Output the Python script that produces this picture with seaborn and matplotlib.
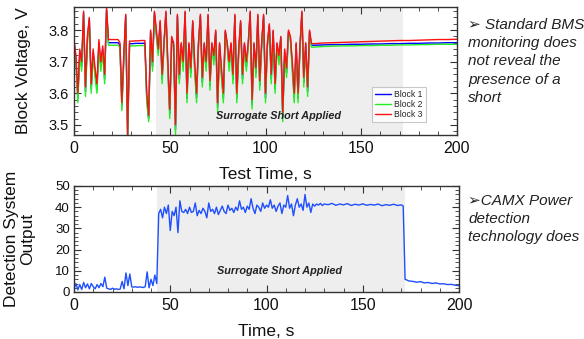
import numpy as np
import pandas as pd
import matplotlib
matplotlib.use("Agg")
import matplotlib.pyplot as plt
from matplotlib.ticker import MultipleLocator
import seaborn as sns

# ---------------- data ----------------
# Block voltages: 1 s samples 0..124 s, then sparse samples in the quiet tail
volt_time = list(range(0, 125)) + [125, 130, 135, 140, 145, 150, 155, 160, 165, 170, 175, 180, 185, 190, 195, 200]

block3 = [3.77, 3.72, 3.60, 3.74, 3.70, 3.86, 3.62, 3.78, 3.84, 3.63,
          3.74, 3.68, 3.63, 3.77, 3.70, 3.75, 3.66, 3.87, 3.770, 3.770,
          3.770, 3.770, 3.770, 3.770, 3.760, 3.57, 3.72, 3.85, 3.47, 3.765,
          3.765, 3.765, 3.766, 3.766, 3.766, 3.767, 3.767, 3.767, 3.60, 3.53,
          3.80, 3.70, 3.86, 3.80, 3.74, 3.83, 3.66, 3.76, 3.86, 3.70,
          3.55, 3.78, 3.76, 3.50, 3.85, 3.66, 3.76, 3.70, 3.86, 3.60,
          3.76, 3.68, 3.83, 3.70, 3.60, 3.76, 3.85, 3.65, 3.76, 3.70,
          3.85, 3.64, 3.76, 3.72, 3.80, 3.57, 3.76, 3.68, 3.60, 3.80,
          3.76, 3.70, 3.76, 3.66, 3.85, 3.60, 3.74, 3.83, 3.66, 3.76,
          3.70, 3.76, 3.86, 3.58, 3.76, 3.68, 3.85, 3.64, 3.76, 3.85,
          3.60, 3.76, 3.82, 3.66, 3.80, 3.63, 3.76, 3.72, 3.78, 3.54,
          3.74, 3.68, 3.80, 3.78, 3.70, 3.60, 3.76, 3.60, 3.75, 3.86,
          3.65, 3.76, 3.62, 3.80, 3.758,
          3.757, 3.759, 3.760, 3.761, 3.762, 3.763, 3.764, 3.765, 3.766, 3.767,
          3.767, 3.768, 3.769, 3.770, 3.770, 3.771]

block2 = [3.755, 3.70, 3.57, 3.72, 3.67, 3.85, 3.59, 3.76, 3.83, 3.60,
          3.72, 3.65, 3.60, 3.75, 3.67, 3.73, 3.63, 3.86, 3.752, 3.752,
          3.752, 3.752, 3.752, 3.752, 3.745, 3.545, 3.70, 3.84, 3.45, 3.750,
          3.750, 3.750, 3.750, 3.751, 3.751, 3.751, 3.751, 3.751, 3.57, 3.51,
          3.79, 3.67, 3.85, 3.78, 3.72, 3.82, 3.63, 3.748, 3.85, 3.67,
          3.52, 3.76, 3.748, 3.47, 3.84, 3.63, 3.748, 3.67, 3.85, 3.57,
          3.748, 3.65, 3.82, 3.67, 3.57, 3.748, 3.84, 3.62, 3.748, 3.67,
          3.84, 3.61, 3.748, 3.69, 3.79, 3.54, 3.748, 3.65, 3.57, 3.79,
          3.748, 3.67, 3.748, 3.63, 3.84, 3.57, 3.72, 3.82, 3.63, 3.748,
          3.67, 3.748, 3.85, 3.55, 3.748, 3.65, 3.84, 3.61, 3.748, 3.84,
          3.57, 3.748, 3.81, 3.63, 3.79, 3.60, 3.748, 3.69, 3.77, 3.51,
          3.72, 3.65, 3.79, 3.77, 3.67, 3.57, 3.748, 3.57, 3.74, 3.85,
          3.62, 3.748, 3.59, 3.79, 3.746,
          3.746, 3.748, 3.749, 3.750, 3.750, 3.751, 3.751, 3.752, 3.752, 3.753,
          3.753, 3.754, 3.754, 3.755, 3.755, 3.755]

block1 = [3.762, 3.71, 3.585, 3.73, 3.685, 3.855, 3.605, 3.77, 3.835, 3.615,
          3.73, 3.665, 3.615, 3.76, 3.685, 3.74, 3.645, 3.865, 3.760, 3.760,
          3.760, 3.760, 3.760, 3.760, 3.752, 3.56, 3.71, 3.845, 3.46, 3.757,
          3.757, 3.757, 3.758, 3.758, 3.758, 3.758, 3.758, 3.759, 3.585, 3.52,
          3.795, 3.685, 3.855, 3.79, 3.73, 3.825, 3.645, 3.755, 3.855, 3.685,
          3.535, 3.77, 3.755, 3.485, 3.845, 3.645, 3.755, 3.685, 3.855, 3.585,
          3.755, 3.665, 3.825, 3.685, 3.585, 3.755, 3.845, 3.635, 3.755, 3.685,
          3.845, 3.625, 3.755, 3.705, 3.795, 3.555, 3.755, 3.665, 3.585, 3.795,
          3.755, 3.685, 3.755, 3.645, 3.845, 3.585, 3.73, 3.825, 3.645, 3.755,
          3.685, 3.755, 3.855, 3.565, 3.755, 3.665, 3.845, 3.625, 3.755, 3.845,
          3.585, 3.755, 3.815, 3.645, 3.795, 3.615, 3.755, 3.705, 3.775, 3.525,
          3.73, 3.665, 3.795, 3.775, 3.685, 3.585, 3.755, 3.585, 3.745, 3.855,
          3.635, 3.755, 3.605, 3.795, 3.752,
          3.752, 3.753, 3.754, 3.754, 3.755, 3.755, 3.756, 3.756, 3.757, 3.757,
          3.758, 3.758, 3.759, 3.759, 3.760, 3.760]

block_names = ["Block 1", "Block 2", "Block 3"]

# Detection system output
det_time = list(range(0, 131)) + [132, 134, 136, 138, 140, 142, 144, 146, 148, 150,
                                   152, 154, 156, 158, 160, 162, 164, 166, 168, 170,
                                   171, 172, 174, 176, 178, 180, 182, 184, 186, 188,
                                   190, 192, 194, 196, 198, 200]
det_output = [1.5, 4.0, 1.0, 3.5, 1.2, 4.5, 2.0, 3.8, 1.5, 4.0,
              2.5, 1.5, 3.5, 2.0, 4.0, 2.5, 7.0, 1.8, 1.5, 1.2,
              1.8, 1.3, 1.5, 1.2, 1.4, 5.0, 1.5, 9.0, 3.0, 8.5,
              2.4, 2.3, 2.5, 2.2, 2.4, 2.3, 2.1, 2.5, 9.5, 2.0,
              6.0, 3.0, 8.0, 4.0, 37.0, 39.0, 35.0, 40.0, 37.0, 41.0,
              29.0, 38.0, 36.0, 40.0, 28.0, 43.0, 38.0, 37.5, 39.0, 37.0,
              40.0, 37.5, 38.0, 42.0, 36.0, 38.5, 37.0, 39.5, 38.0, 35.0,
              42.0, 38.0, 39.0, 37.0, 40.0, 36.5, 38.5, 40.5, 38.0, 37.0,
              41.0, 38.5, 39.5, 37.5, 40.0, 38.5, 43.0, 39.0, 40.0, 37.5,
              40.5, 39.0, 44.0, 39.5, 37.0, 41.0, 40.0, 38.0, 42.0, 39.5,
              41.0, 40.0, 43.5, 39.5, 41.0, 38.0, 40.5, 42.0, 37.0, 41.0,
              40.0, 45.5, 39.5, 41.5, 36.0, 41.0, 44.0, 40.0, 41.5, 38.5,
              46.0, 40.0, 42.0, 37.5, 41.5, 40.5, 41.5, 41.0, 41.8, 40.8,
              41.5,
              41.2, 41.8, 40.9, 41.5, 41.1, 41.7, 40.8, 41.4, 41.0, 41.6,
              40.9, 41.3, 41.0, 41.5, 40.7, 41.2, 40.9, 41.4, 40.8, 41.1,
              40.6, 6.0, 5.2, 5.0, 4.6, 4.9, 4.3, 4.5, 4.0, 4.3,
              3.8, 3.9, 3.5, 3.6, 3.2, 3.0]

short_start, short_end = 43, 172

# ---------------- figure ----------------
sns.set_style("ticks")
plt.rcParams["font.family"] = ["Liberation Sans", "DejaVu Sans"]
plt.rcParams["axes.linewidth"] = 1.0
plt.rcParams["axes.edgecolor"] = "#333333"

W, H = 584, 339
fig = plt.figure(figsize=(W / 100, H / 100), dpi=100)

def rect(l, t, r, b):
    return [l / W, 1 - b / H, (r - l) / W, (b - t) / H]

ax1 = fig.add_axes(rect(74, 7, 457, 135))
ax2 = fig.add_axes(rect(74, 186, 459, 292))

volt_df = pd.DataFrame({
    "t": volt_time * 3,
    "v": block1 + block2 + block3,
    "block": [block_names[0]] * len(block1) + [block_names[1]] * len(block2) + [block_names[2]] * len(block3),
})
det_df = pd.DataFrame({"t": det_time, "out": det_output})

for ax in (ax1, ax2):
    ax.axvspan(short_start, short_end, color="#eeeeee", zorder=0, lw=0)

sns.lineplot(data=volt_df, x="t", y="v", hue="block", estimator=None, sort=False,
             palette={"Block 1": "#0000ff", "Block 2": "#22ee22", "Block 3": "#ff1010"},
             linewidth=1.0, ax=ax1)
sns.lineplot(data=det_df, x="t", y="out", estimator=None, sort=False,
             color="#1f4fff", linewidth=1.0, ax=ax2)

ax1.set_xlim(0, 200)
ax1.set_ylim(3.468, 3.873)
ax2.set_xlim(0, 200)
ax2.set_ylim(0, 50)

ax1.xaxis.set_major_locator(MultipleLocator(50))
ax1.xaxis.set_minor_locator(MultipleLocator(10))
ax1.yaxis.set_major_locator(MultipleLocator(0.1))
ax1.yaxis.set_minor_locator(MultipleLocator(0.02))
ax2.xaxis.set_major_locator(MultipleLocator(50))
ax2.xaxis.set_minor_locator(MultipleLocator(10))
ax2.yaxis.set_major_locator(MultipleLocator(10))
ax2.yaxis.set_minor_locator(MultipleLocator(2))

for ax in (ax1, ax2):
    ax.tick_params(which="both", direction="in", top=True, right=True, color="#333333")
    ax.tick_params(which="major", length=5, width=0.8)
    ax.tick_params(which="minor", length=3, width=0.6)
    ax.tick_params(axis="x", labelsize=11.5, pad=4, labelcolor="#111111")
ax1.tick_params(axis="y", labelsize=10.5, pad=4, labelcolor="#111111")
ax2.tick_params(axis="y", labelsize=9.5, pad=3, labelcolor="#111111")
ax1.set_yticks([3.5, 3.6, 3.7, 3.8])
ax1.set_yticklabels(["3.5", "3.6", "3.7", "3.8"])

ax1.set_xlabel("Test Time, s", fontsize=12.5, color="#111111", labelpad=8)
ax1.set_ylabel("Block Voltage, V", fontsize=12.5, color="#111111")
ax1.yaxis.set_label_coords(-0.113, 0.5)
ax2.set_xlabel("Time, s", fontsize=12.5, color="#111111", labelpad=8)
ax2.set_ylabel("Detection System\nOutput", fontsize=12.5, color="#111111", linespacing=1.1)
ax2.yaxis.set_label_coords(-0.101, 0.5)

ax1.text(107, 3.529, "Surrogate Short Applied", fontsize=7.8, fontweight="bold",
         fontstyle="italic", ha="center", va="center", color="#222222")
ax2.text(107, 9.8, "Surrogate Short Applied", fontsize=7.8, fontweight="bold",
         fontstyle="italic", ha="center", va="center", color="#222222")

leg = ax1.legend(loc="lower right", bbox_to_anchor=(0.93, 0.065), fontsize=6.2,
                 handlelength=1.8, labelspacing=0.15, borderpad=0.35,
                 handletextpad=0.4, frameon=True, fancybox=False, title=None)
leg.get_frame().set_edgecolor("#bbbbbb")
leg.get_frame().set_linewidth(0.8)
for line in leg.get_lines():
    line.set_linewidth(1.0)

fig.text(468 / W, 1 - 18 / H,
         "\u27a2 Standard BMS\nmonitoring does\nnot reveal the\npresence of a\nshort",
         fontsize=11, fontstyle="italic", ha="left", va="top", color="#222222",
         linespacing=1.38)
fig.text(468 / W, 1 - 194 / H,
         "\u27a2CAMX Power\ndetection\ntechnology does",
         fontsize=11, fontstyle="italic", ha="left", va="top", color="#222222",
         linespacing=1.38)

fig.savefig("out.png", dpi=100)
